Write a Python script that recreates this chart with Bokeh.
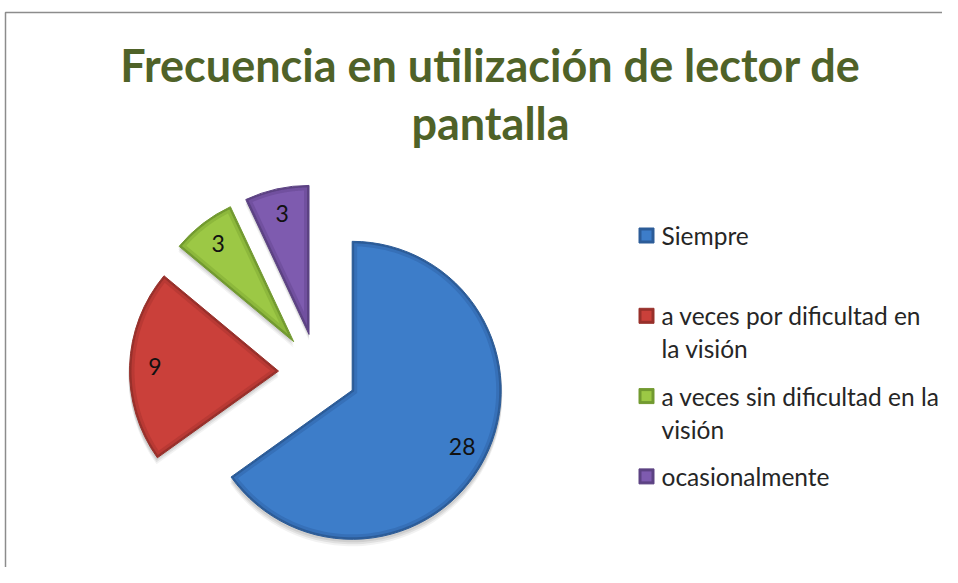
import numpy as np
from bokeh.plotting import figure
from bokeh.models import Range1d, Label, ColumnDataSource
from bokeh.embed import file_html
from bokeh.resources import INLINE
from bokeh.core.properties import value

# ---- data ----
title_lines = ["Frecuencia en utilización de lector de", "pantalla"]
categories = ["Siempre",
              "a veces por dificultad en\nla visión",
              "a veces sin dificultad en la\nvisión",
              "ocasionalmente"]
values = [28, 9, 3, 3]
colors = ["#3D7DC9", "#CA403A", "#9CC845", "#7E5BAF"]
rim_colors = ["#3670B8", "#B93934", "#8DB83C", "#71509F"]
edge_colors = ["#2C5C98", "#98302B", "#729A30", "#5C4283"]

# ---- layout (pixel-like data space) ----
W, H = 942, 567
CX, CY, R, EXPLODE = 317.0, 195.0, 149.0, 39.0

p = figure(width=W, height=H, output_backend="svg", toolbar_location=None,
           x_range=Range1d(0, W), y_range=Range1d(0, H),
           x_axis_location=None, y_axis_location=None,
           min_border=0, outline_line_color=None)
p.grid.visible = False
p.background_fill_color = "white"
p.border_fill_color = "white"

# chart-area border (left and top visible)
p.line([5, 5, W], [0, 555, 555], line_color="#8C8C8C", line_width=1.5)

vals = np.array(values, dtype=float)
total = vals.sum()
cum = np.cumsum(vals)
th_s = np.concatenate([[0.0], cum[:-1]]) / total * 360.0  # clockwise from top
th_e = cum / total * 360.0
th_m = (th_s + th_e) / 2.0
ax = CX + EXPLODE * np.sin(np.radians(th_m))
ay = CY + EXPLODE * np.cos(np.radians(th_m))
start = np.radians(90.0 - th_e)
end = np.radians(90.0 - th_s)

src = ColumnDataSource(dict(x=ax, y=ay, start=start, end=end,
                            color=colors, rim=rim_colors, edge=edge_colors))

# soft shadow
for off, alpha in [(6, 0.05), (4, 0.07), (2, 0.08)]:
    p.wedge(x=ax, y=ay - off, radius=R + 1, start_angle=start, end_angle=end,
            fill_color="black", fill_alpha=alpha, line_color=None)

# base wedges (outer bevel edge)
p.wedge(x="x", y="y", radius=R, start_angle="start", end_angle="end",
        fill_color="edge", line_color="edge", line_width=1, source=src)


def inset_polygon(a_x, a_y, ts, te, t):
    half = np.radians((te - ts) / 2.0)
    mid = np.radians((ts + te) / 2.0)
    shift = t / np.sin(half)
    px = a_x + shift * np.sin(mid)
    py = a_y + shift * np.cos(mid)
    r = R - t
    dl = np.degrees(np.arcsin(t / r))
    angs = np.radians(np.linspace(ts + dl, te - dl, 140))
    xs = [px] + list(a_x + r * np.sin(angs))
    ys = [py] + list(a_y + r * np.cos(angs))
    return xs, ys


for t, fills in [(2.0, rim_colors), (5.0, colors)]:
    xs, ys = [], []
    for i in range(len(vals)):
        x_, y_ = inset_polygon(ax[i], ay[i], th_s[i], th_e[i], t)
        xs.append(x_)
        ys.append(y_)
    p.patches(xs, ys, fill_color=fills, line_color=None)

# data labels
lr = 0.83 * R
lab = ColumnDataSource(dict(
    x=ax + lr * np.sin(np.radians(th_m)),
    y=ay + lr * np.cos(np.radians(th_m)),
    text=[str(v) for v in values]))
p.text(x="x", y="y", text="text", source=lab, text_align="center",
       text_baseline="middle", text_font=value("Lato"),
       text_font_size="23px", text_color="#111111")

# title
TITLE_X, TITLE_Y0, TITLE_DY = 490, 503, 58
for i, line in enumerate(title_lines):
    p.add_layout(Label(x=TITLE_X, y=TITLE_Y0 - i * TITLE_DY, text=line,
                       text_font="Lato", text_font_style="bold",
                       text_font_size="45px", text_color="#4F6228",
                       text_align="center", text_baseline="middle"))

# legend
LX, MX, LY0, ITEM_DY, LINE_DY, MS = 661, 646, 332, 80.3, 33, 15
for i, cat in enumerate(categories):
    mid_y = LY0 - i * ITEM_DY
    p.rect(x=[MX], y=[mid_y], width=MS, height=MS,
           fill_color=edge_colors[i], line_color=edge_colors[i], line_width=1)
    p.rect(x=[MX], y=[mid_y], width=MS - 5, height=MS - 5,
           fill_color=colors[i], line_color=None)
    for j, line in enumerate(cat.split("\n")):
        p.add_layout(Label(x=LX, y=mid_y - j * LINE_DY, text=line,
                           text_font="Lato", text_font_size="24.5px",
                           text_color="#262626", text_align="left",
                           text_baseline="middle"))

open("out.html", "w").write(file_html(p, INLINE))
